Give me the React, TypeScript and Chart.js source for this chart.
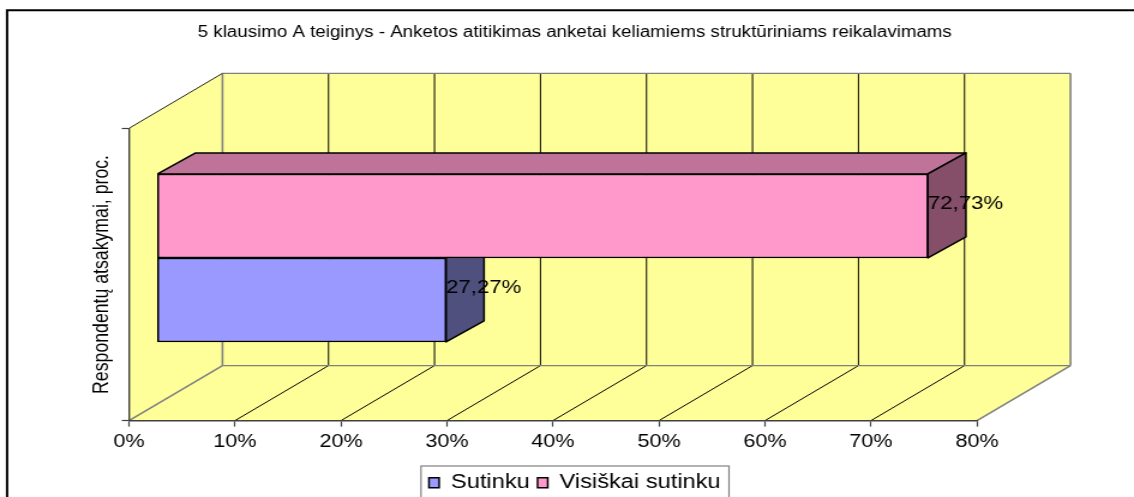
import React, { useEffect, useRef } from "react";
import { Chart, registerables } from "chart.js";

Chart.register(...registerables);

const categories = [""];
const seriesNames = ["Sutinku", "Visiškai sutinku"];
const sutinku = [27.27];
const visiskaiSutinku = [72.73];
const chartTitle = "5 klausimo A teiginys - Anketos atitikimas anketai keliamiems struktūriniams reikalavimams";
const yAxisTitle = "Respondentų atsakymai, proc.";

const FONT = "'Liberation Sans', Arial, sans-serif";
const STRETCH = 1.2;
const WIDTH = Math.round(1134 / STRETCH);
const HEIGHT = 497;

// 3D projection, in canvas units
const WALL_DX = 93.5 / STRETCH;
const WALL_DY = -55;
const BAR_SHIFT_X = 28 / STRETCH;
const BAR_SHIFT_Y = -16.5;
const BAR_DX = 38 / STRETCH;
const BAR_DY = -21;

const WALL = "#FFFF99";
const GRAY = "#808080";

function poly(ctx: CanvasRenderingContext2D, pts: number[][], fill?: string, stroke?: string, lw = 1) {
  ctx.beginPath();
  pts.forEach((p, i) => (i ? ctx.lineTo(p[0], p[1]) : ctx.moveTo(p[0], p[1])));
  if (fill) {
    ctx.closePath();
    ctx.fillStyle = fill;
    ctx.fill();
  }
  if (stroke) {
    ctx.lineWidth = lw;
    ctx.strokeStyle = stroke;
    ctx.stroke();
  }
}

const shadows: Record<number, { top: string; side: string }> = {
  0: { top: "#73739F", side: "#50507F" },
  1: { top: "#BF7398", side: "#854F6A" },
};

const chart3d = {
  id: "chart3d",
  beforeDraw(chart: any) {
    const { ctx, chartArea: a, scales } = chart;
    const x = scales.x;
    const L = a.left, R = a.right, T = a.top, B = a.bottom;
    const dx = WALL_DX, dy = WALL_DY;
    ctx.save();
    // frame of the picture
    ctx.strokeStyle = "#000";
    ctx.lineWidth = 2;
    ctx.beginPath();
    ctx.moveTo(5.9, HEIGHT);
    ctx.lineTo(5.9, 10.2);
    ctx.lineTo(WIDTH, 10.2);
    ctx.stroke();
    // walls and floor
    poly(ctx, [[L, T], [L + dx, T + dy], [L + dx, B + dy], [L, B]], WALL);
    poly(ctx, [[L + dx, T + dy], [R + dx, T + dy], [R + dx, B + dy], [L + dx, B + dy]], WALL);
    poly(ctx, [[L, B], [R, B], [R + dx, B + dy], [L + dx, B + dy]], WALL);
    // grid lines
    x.ticks.forEach((t: any, i: number) => {
      const px = x.getPixelForValue(t.value);
      const edge = i === 0 || i === x.ticks.length - 1;
      const color = edge ? GRAY : "#000";
      const lw = edge ? 1.6 : 1;
      poly(ctx, [[px + dx, T + dy], [px + dx, B + dy]], undefined, color, lw);
      poly(ctx, [[px, B], [px + dx, B + dy]], undefined, color, lw);
    });
    poly(ctx, [[L + dx, T + dy], [R + dx, T + dy]], undefined, GRAY, 1.2);
    poly(ctx, [[L + dx, B + dy], [R + dx, B + dy]], undefined, GRAY, 1.4);
    poly(ctx, [[L, T], [L + dx, T + dy]], undefined, "#222", 1);
    ctx.restore();
  },
  beforeDatasetDraw(chart: any, args: any) {
    const { ctx } = chart;
    ctx.save();
    ctx.translate(BAR_SHIFT_X, BAR_SHIFT_Y);
    ctx.lineJoin = "round";
    const c = shadows[args.index];
    args.meta.data.forEach((el: any) => {
      const t = el.y - el.height / 2;
      const b = el.y + el.height / 2;
      poly(ctx, [[el.base, t], [el.x, t], [el.x + BAR_DX, t + BAR_DY], [el.base + BAR_DX, t + BAR_DY]], c.top);
      poly(ctx, [[el.base, t], [el.x, t], [el.x + BAR_DX, t + BAR_DY], [el.base + BAR_DX, t + BAR_DY], [el.base, t]], undefined, "#000", 1.5);
      poly(ctx, [[el.x, t], [el.x + BAR_DX, t + BAR_DY], [el.x + BAR_DX, b + BAR_DY], [el.x, b]], c.side);
      poly(ctx, [[el.x, t], [el.x + BAR_DX, t + BAR_DY], [el.x + BAR_DX, b + BAR_DY], [el.x, b], [el.x, t]], undefined, "#000", 1.5);
    });
  },
  afterDatasetDraw(chart: any) {
    chart.ctx.restore();
  },
  afterDatasetsDraw(chart: any) {
    const { ctx } = chart;
    ctx.save();
    ctx.fillStyle = "#000";
    ctx.font = `18.5px ${FONT}`;
    ctx.textBaseline = "middle";
    ctx.textAlign = "left";
    chart.data.datasets.forEach((ds: any, i: number) => {
      chart.getDatasetMeta(i).data.forEach((el: any, j: number) => {
        const label = ds.data[j].toFixed(2).replace(".", ",") + "%";
        ctx.fillText(label, el.x + BAR_SHIFT_X, el.y + BAR_SHIFT_Y - 12);
      });
    });
    ctx.restore();
  },
  afterDraw(chart: any) {
    const { ctx } = chart;
    ctx.save();
    ctx.strokeStyle = GRAY;
    ctx.lineWidth = 1.2;
    ctx.strokeRect(421 / STRETCH, 466, (729 - 421) / STRETCH, 60);
    ctx.restore();
  },
};

export default function App() {
  const ref = useRef<HTMLCanvasElement>(null);
  useEffect(() => {
    document.body.style.background = "#fff";
    const chart = new Chart(ref.current as HTMLCanvasElement, {
      type: "bar",
      plugins: [chart3d],
      data: {
        labels: categories,
        datasets: [
          {
            label: seriesNames[0],
            data: sutinku,
            order: 1,
            backgroundColor: "#9999FF",
            borderColor: "#000",
            borderWidth: 1.5,
            borderSkipped: false,
            barThickness: 84,
            clip: false,
          },
          {
            label: seriesNames[1],
            data: visiskaiSutinku,
            order: 0,
            backgroundColor: "#FF99CC",
            borderColor: "#000",
            borderWidth: 1.5,
            borderSkipped: false,
            barThickness: 84,
            clip: false,
          },
        ] as any,
      },
      options: {
        indexAxis: "y",
        animation: false,
        responsive: false,
        layout: { padding: { left: 13, right: 0, top: 0, bottom: -5.5 } },
        plugins: {
          tooltip: { enabled: false },
          title: {
            display: true,
            text: chartTitle,
            color: "#000",
            font: { family: FONT, size: 15.6, weight: "normal" },
            padding: { top: 23.6, bottom: 86 },
          },
          legend: {
            position: "bottom",
            labels: {
              color: "#000",
              font: { family: FONT, size: 19.7 },
              boxWidth: 8.5,
              boxHeight: 10,
              padding: 6.5,
              sort: (a: any, b: any) => a.datasetIndex - b.datasetIndex,
            },
          },
        },
        scales: {
          x: {
            type: "linear",
            min: 0,
            max: 80,
            ticks: {
              stepSize: 10,
              color: "#000",
              maxRotation: 0,
              padding: 4.5,
              font: { family: FONT, size: 18 },
              callback: (v: any) => v + "%",
            },
            grid: { drawOnChartArea: false, drawTicks: true, tickLength: 6, tickColor: "#404040", tickWidth: 1.2 },
            border: { display: true, color: "#404040", width: 1.4 },
            afterFit: (s: any) => {
              s.height = 45.7;
            },
          },
          y: {
            type: "category",
            ticks: { display: false },
            title: {
              display: true,
              text: yAxisTitle,
              color: "#000",
              font: { family: FONT, size: 17.7 },
              padding: { top: 61.5, bottom: 0 },
            },
            grid: { drawOnChartArea: false, drawTicks: true, tickLength: 6, tickColor: "#404040", tickWidth: 1.2 },
            border: { display: true, color: "#404040", width: 1.4 },
            afterFit: (s: any) => {
              s.width = 129 / STRETCH - 13;
            },
          },
          spacer: {
            type: "linear",
            position: "right",
            display: true,
            ticks: { display: false },
            grid: { display: false },
            border: { display: false },
            afterFit: (s: any) => {
              s.width = WIDTH - 977 / STRETCH;
            },
          },
        },
      } as any,
    });
    return () => chart.destroy();
  }, []);
  return (
    <div
      style={{
        position: "absolute",
        left: 0,
        top: 0,
        width: WIDTH,
        height: HEIGHT,
        transform: `scale(${1134 / WIDTH}, 1)`,
        transformOrigin: "0 0",
      }}
    >
      <canvas ref={ref} width={WIDTH} height={HEIGHT} />
    </div>
  );
}
